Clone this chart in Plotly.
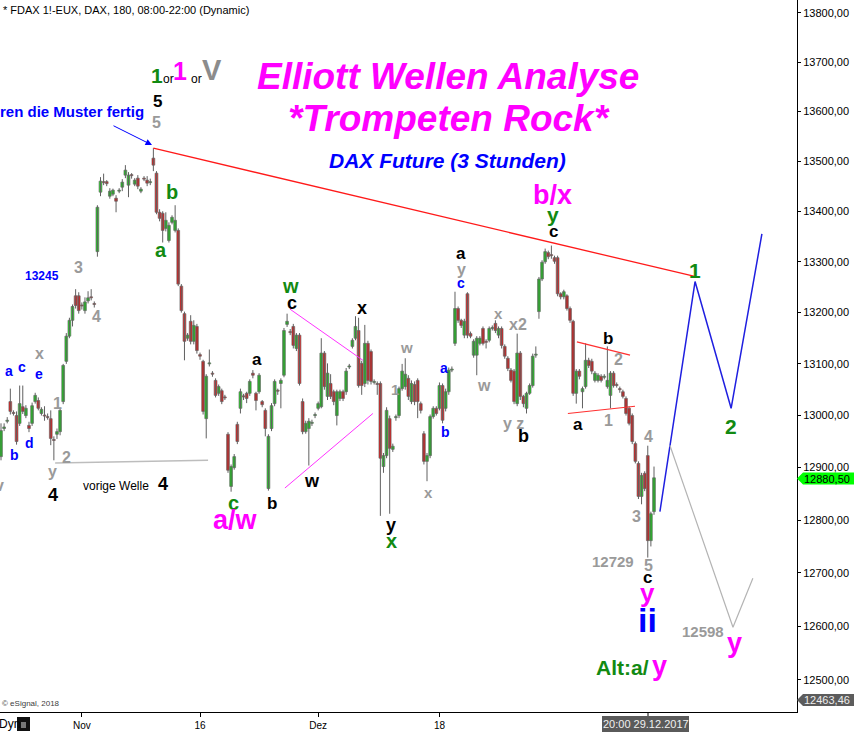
import math
import plotly.graph_objects as go

# 3-hour FDAX candles from left to right
opens = [12921, 12975, 12989, 13027, 13006, 13000, 12985, 13017, 13000, 12981,
         12985, 13027, 13029, 13004, 13001, 12998, 12994, 12954, 12964, 12969,
         13027, 13105, 13154, 13185, 13233, 13233, 13215, 13204, 13223, 13231,
         13218, 13320, 13438, 13459, 13459, 13430, 13434, 13426, 13440, 13448,
         13472, 13452, 13473, 13454, 13466, 13440, 13466, 13462, 13457, 13506,
         13476, 13398, 13396, 13366, 13342, 13378, 13362, 13362, 13252, 13198,
         13150, 13183, 13144, 13173, 13118, 13105, 12994, 13100, 13082, 13068,
         13043, 13048, 13036, 12964, 12864, 12900, 12983, 13014, 13038, 13043,
         13043, 13082, 13043, 13046, 13027, 13010, 12860, 12975, 13023, 13049,
         13062, 13078, 13177, 13163, 13173, 13130, 13156, 13027, 12969, 12975,
         12985, 13000, 13014, 13017, 13121, 13037, 13062, 13046, 13000, 13033,
         13046, 13046, 13094, 13134, 13150, 13165, 13101, 13062, 13140, 13124,
         13064, 13062, 13062, 12902, 12923, 12994, 12935, 12996, 13000, 13052,
         13056, 13072, 13027, 13060, 13068, 13023, 12965, 12912, 12923, 12998,
         13014, 13014, 13058, 13014, 13046, 13088, 13140, 13208, 13185, 13156,
         13237, 13159, 13117, 13117, 13140, 13169, 13144, 13146, 13169, 13179,
         13156, 13169, 13134, 13111, 13088, 13086, 13023, 13121, 13037, 13014,
         13043, 13058, 13117, 13202, 13266, 13300, 13318, 13314, 13308, 13308,
         13237, 13231, 13233, 13208, 13183, 13043, 13086, 13046, 13056, 13107,
         13105, 13068, 13068, 13076, 13074, 13056, 13039, 13082, 13060, 13052,
         13046, 13033, 13014, 13000, 12946, 12908, 12845, 12889, 12923, 12761,
         12816]
highs = [12985, 12985, 12997, 13052, 13010, 13008, 13058, 13058, 13020, 12988,
         13025, 13044, 13035, 13016, 13018, 13004, 13010, 12960, 12975, 13015,
         13100, 13160, 13190, 13216, 13246, 13240, 13220, 13230, 13242, 13246,
         13222, 13412, 13468, 13475, 13462, 13446, 13445, 13432, 13446, 13464,
         13492, 13478, 13476, 13466, 13472, 13448, 13470, 13470, 13465, 13526,
         13480, 13404, 13400, 13398, 13378, 13392, 13412, 13366, 13256, 13202,
         13160, 13195, 13185, 13178, 13122, 13108, 13080, 13128, 13086, 13072,
         13060, 13052, 13040, 12968, 12906, 12926, 12988, 13052, 13042, 13046,
         13070, 13088, 13046, 13082, 13030, 13014, 12964, 13024, 13070, 13052,
         13072, 13170, 13198, 13168, 13178, 13160, 13160, 13033, 12990, 12995,
         12992, 13006, 13027, 13150, 13125, 13101, 13080, 13050, 13050, 13050,
         13050, 13092, 13100, 13150, 13193, 13190, 13106, 13176, 13145, 13128,
         13070, 13066, 13066, 12928, 13016, 13000, 12946, 13002, 13056, 13100,
         13111, 13078, 13068, 13066, 13072, 13027, 12970, 12928, 13002, 13018,
         13018, 13064, 13062, 13052, 13093, 13095, 13241, 13212, 13188, 13188,
         13240, 13163, 13148, 13154, 13154, 13173, 13148, 13173, 13175, 13185,
         13173, 13173, 13138, 13115, 13092, 13090, 13159, 13125, 13040, 13046,
         13062, 13120, 13134, 13270, 13303, 13326, 13322, 13332, 13312, 13312,
         13240, 13245, 13236, 13212, 13186, 13090, 13090, 13056, 13140, 13112,
         13110, 13086, 13082, 13080, 13080, 13134, 13086, 13086, 13064, 13056,
         13050, 13037, 13018, 13004, 12950, 12912, 12890, 12893, 12942, 12816,
         12902]
lows = [12914, 12970, 12985, 13002, 13000, 12944, 12980, 13003, 12995, 12968,
        12980, 13023, 13010, 13000, 12990, 12992, 12943, 12914, 12955, 12962,
        13022, 13100, 13150, 13173, 13208, 13198, 13206, 13198, 13218, 13224,
        13210, 13310, 13430, 13452, 13450, 13425, 13430, 13398, 13436, 13440,
        13466, 13428, 13465, 13450, 13444, 13436, 13460, 13450, 13452, 13480,
        13394, 13380, 13338, 13360, 13338, 13374, 13358, 13252, 13200, 13107,
        13145, 13138, 13138, 13120, 13108, 13002, 12956, 13095, 13075, 13035,
        13038, 13022, 13030, 12890, 12854, 12896, 12945, 13004, 13030, 13024,
        13038, 13072, 13010, 13042, 13016, 12960, 12856, 12970, 13018, 13040,
        13014, 13074, 13172, 13156, 13130, 13125, 13058, 12964, 12965, 12904,
        12980, 12995, 13010, 13014, 13050, 13030, 13032, 13020, 12981, 13028,
        13028, 13040, 13090, 13130, 13146, 13054, 13040, 13055, 13060, 13060,
        13060, 13040, 12808, 12890, 12918, 12812, 12930, 12990, 12995, 13048,
        13050, 13030, 13022, 13020, 12995, 13004, 12906, 12874, 12918, 12994,
        13000, 13010, 12985, 13008, 13040, 13084, 13135, 13180, 13170, 13150,
        13150, 13150, 13112, 13078, 13136, 13136, 13130, 13142, 13165, 13160,
        13150, 13130, 13110, 13086, 13064, 13022, 13018, 13030, 13016, 13004,
        13040, 13054, 13112, 13188, 13262, 13296, 13305, 13306, 13296, 13232,
        13226, 13226, 13204, 13180, 13038, 13023, 13070, 13014, 13052, 13092,
        13080, 13064, 13064, 13064, 13070, 13052, 13014, 13054, 13054, 13044,
        13033, 13000, 12981, 12945, 12908, 12840, 12830, 12855, 12729, 12750,
        12810]
closes = [12971, 12978, 12991, 13008, 13004, 12950, 13023, 13008, 13014, 12975,
          13019, 13039, 13014, 13012, 12999, 12996, 12956, 12952, 12969, 13010,
          13097, 13154, 13185, 13212, 13214, 13204, 13213, 13221, 13229, 13229,
          13216, 13408, 13460, 13457, 13455, 13440, 13442, 13420, 13442, 13458,
          13482, 13472, 13471, 13462, 13450, 13444, 13464, 13456, 13459, 13492,
          13398, 13386, 13362, 13382, 13372, 13388, 13382, 13256, 13204, 13144,
          13156, 13144, 13175, 13126, 13115, 13008, 13076, 13102, 13080, 13039,
          13056, 13027, 13034, 12895, 12902, 12921, 12950, 13046, 13036, 13033,
          13066, 13078, 13029, 13078, 13021, 12975, 12960, 13019, 13066, 13047,
          13068, 13165, 13183, 13161, 13136, 13156, 13062, 12969, 12985, 12989,
          12987, 13002, 13023, 13121, 13056, 13082, 13037, 13027, 13046, 13046,
          13033, 13086, 13096, 13146, 13173, 13058, 13058, 13140, 13068, 13066,
          13066, 13060, 12918, 12923, 13010, 12937, 12941, 12998, 13052, 13086,
          13080, 13037, 13062, 13027, 13027, 13010, 12912, 12923, 12998, 13014,
          13004, 13058, 12991, 13046, 13088, 13090, 13208, 13185, 13175, 13183,
          13156, 13154, 13144, 13150, 13150, 13140, 13142, 13169, 13171, 13165,
          13169, 13136, 13115, 13091, 13068, 13027, 13121, 13037, 13023, 13043,
          13058, 13115, 13119, 13266, 13299, 13320, 13310, 13312, 13301, 13237,
          13231, 13241, 13208, 13185, 13043, 13086, 13076, 13052, 13107, 13097,
          13086, 13082, 13078, 13068, 13076, 13068, 13082, 13058, 13058, 13050,
          13037, 13004, 12985, 12950, 12912, 12845, 12885, 12860, 12761, 12812,
          12880.5]
bars = list(range(len(opens)))

date_ticks = [26, 64, 102, 141]
date_labels = ["Nov", "16", "Dez", "18"]
price_ticks = [12500, 12600, 12700, 12800, 12900, 13000, 13100,
               13200, 13300, 13400, 13500, 13600, 13700, 13800]

# drawn lines (bar number, price)
trend_x, trend_y = [49, 223.8], [13526, 13270]
proj_x, proj_y = [211.9, 223.2, 234.8, 244.7], [12816, 13261, 13014, 13355]
alt_x, alt_y = [215.1, 235.4, 241.8], [12943, 12598, 12690]
wedge_top_x, wedge_top_y = [92.9, 116.4], [13207, 13107]
wedge_bot_x, wedge_bot_y = [91.3, 119.6], [12861, 13004]
tri_top_x, tri_top_y = [185.2, 202.3], [13143, 13117]
tri_bot_x, tri_bot_y = [182.3, 203.9], [13004, 13018]
prev4_x, prev4_y = [17.4, 66.6], [12909, 12914]

last_price = "12880,50"
low_price = "12463,46"

FONT = "Liberation Sans, Arial, sans-serif"
GREEN = "#128a12"
MAG = "#ff00ff"
GREY = "#9a9a9a"
BLUE = "#0000ff"
BLACK = "#000000"

W, H = 797, 712  # plot area in pixels
bar_step = 653 / (len(opens) - 1)
x_lo = -1 / bar_step
x_hi = x_lo + W / bar_step

fig = go.Figure()

# wicks
wick_x, wick_y = [], []
for i in bars:
    wick_x += [i, i, None]
    wick_y += [lows[i], highs[i], None]
fig.add_trace(go.Scatter(x=wick_x, y=wick_y, mode="lines", hoverinfo="skip",
                         line=dict(color="#606060", width=1), showlegend=False))

# bodies
body_base = [min(o, c) for o, c in zip(opens, closes)]
body_len = [max(abs(c - o), 1.5) for o, c in zip(opens, closes)]
body_col = ["#00e800" if c >= o else "#ff0000" for o, c in zip(opens, closes)]
fig.add_trace(go.Bar(x=bars, y=body_len, base=body_base, width=0.88,
                     marker=dict(color=body_col, line=dict(color="#707070", width=0.8)),
                     hoverinfo="skip", showlegend=False))


def line(xs, ys, color, width, dash=None):
    fig.add_trace(go.Scatter(x=xs, y=ys, mode="lines", hoverinfo="skip",
                             line=dict(color=color, width=width, dash=dash),
                             showlegend=False))


line(trend_x, trend_y, "#ff1a1a", 1.3)
line(proj_x, proj_y, "#1f1fe0", 1.5)
line(alt_x, alt_y, "#b4b4b4", 1.2)
line(wedge_top_x, wedge_top_y, "#ff33ff", 1)
line(wedge_bot_x, wedge_bot_y, "#ff33ff", 1)
line(tri_top_x, tri_top_y, "#ff3030", 1.2)
line(tri_bot_x, tri_bot_y, "#ff3030", 1.2)
line(prev4_x, prev4_y, "#bdbdbd", 1.5)


def label(text, x, y, color, size, bold=True, italic=False, anchor="center"):
    fig.add_annotation(
        text=text, xref="paper", yref="paper", x=x / W, y=1 - y / H,
        xanchor=anchor, yanchor="middle", showarrow=False,
        font=dict(family=FONT, size=size, color=color,
                  weight="bold" if bold else "normal",
                  style="italic" if italic else "normal"))


# headline
label("Elliott Wellen Analyse", 448, 77, MAG, 37, italic=True)
label("*Trompeten Rock*", 449, 118, MAG, 37, italic=True)
label("DAX Future (3 Stunden)", 447, 160, BLUE, 21, italic=True)
label("* FDAX 1!-EUX, DAX, 180, 08:00-22:00 (Dynamic)", 1, 10, BLACK, 11,
      bold=False, anchor="left")

# wave count
waves = [
    ("1", 157, 75, GREEN, 21), ("1", 180, 71, MAG, 25), ("V", 212, 70, "#8c8c8c", 29),
    ("5", 157, 101, BLACK, 17), ("5", 156, 122, GREY, 16),
    ("b", 172, 192, GREEN, 20), ("a", 161, 250, GREEN, 20),
    ("3", 78, 268, GREY, 16), ("13245", 42, 276, BLUE, 12), ("4", 96, 316, GREY, 16),
    ("x", 39, 353, GREY, 16), ("a", 9, 371, BLUE, 14), ("c", 22, 367, BLUE, 14),
    ("e", 39, 374, BLUE, 14), ("1", 57, 403, GREY, 16), ("d", 29, 443, BLUE, 14),
    ("b", 14, 455, BLUE, 14), ("2", 66, 457, GREY, 16), ("y", 53, 471, GREY, 16),
    ("4", 53, 495, BLACK, 18), ("4", 163, 484, BLACK, 18),
    ("c", 234, 503, GREEN, 20), ("b", 272, 504, BLACK, 17), ("a/w", 235, 520, MAG, 27),
    ("a", 257, 359, BLACK, 17), ("w", 290, 286, GREEN, 20), ("c", 292, 303, BLACK, 18),
    ("x", 362, 308, BLACK, 18), ("w", 312, 481, BLACK, 18), ("w", 407, 347, GREY, 15),
    ("1", 395, 389, GREY, 15), ("y", 391, 525, BLACK, 18), ("x", 391, 541, GREEN, 20),
    ("a", 444, 368, BLUE, 14), ("b", 446, 432, BLUE, 14), ("x", 428, 492, GREY, 15),
    ("a", 461, 254, BLACK, 17), ("y", 461, 269, GREY, 16), ("c", 461, 283, BLUE, 14),
    ("x", 498, 313, GREY, 15), ("x2", 518, 324, GREY, 16), ("w", 484, 385, GREY, 16),
    ("y z", 513, 423, GREY, 16), ("b", 523, 436, BLACK, 18),
    ("b/x", 552, 195, MAG, 27), ("y", 553, 215, GREEN, 21), ("c", 553, 231, BLACK, 17),
    ("b", 608, 338, BLACK, 17), ("2", 618, 359, GREY, 16), ("a", 578, 424, BLACK, 17),
    ("1", 608, 420, GREY, 16), ("4", 648, 436, GREY, 16), ("3", 636, 516, GREY, 16),
    ("12729", 613, 561, GREY, 15), ("5", 648, 565, GREY, 16), ("c", 647, 577, BLACK, 17),
    ("y", 647, 593, MAG, 26), ("ii", 647, 620, BLUE, 34),
    ("Alt:a/", 622, 667, GREEN, 21), ("y", 659, 666, MAG, 27),
    ("12598", 703, 631, GREY, 15), ("y", 734, 643, MAG, 27),
    ("1", 695, 270, GREEN, 21), ("2", 731, 426, GREEN, 21), ("v", -1, 486, GREY, 16),
]
for t, x, y, c, s in waves:
    label(t, x, y, c, s)

label("or", 168, 79, BLACK, 12, bold=False)
label("or", 196, 79, BLACK, 12, bold=False)
label("vorige Welle", 116, 486, BLACK, 12, bold=False)
label("ren die Muster fertig", 146, 111, BLUE, 15, anchor="right")
label("\u00a9 eSignal, 2018", 0, 703, "#404040", 8, bold=False, anchor="left")
label("Dyn", -3, 724, BLACK, 12, bold=False, anchor="left")

fig.add_annotation(x=152 / W, y=1 - 145 / H, xref="paper", yref="paper",
                   ax=-40, ay=-20, showarrow=True, arrowhead=2, arrowsize=1.3,
                   arrowwidth=1, arrowcolor=BLUE, text="")


def fx(p):
    return p / W


def fy(p):
    return 1 - p / H


def marker(py, fill, text, tcolor):
    path = (f"M {fx(797)},{fy(py)} L {fx(803)},{fy(py - 6)} L {fx(854)},{fy(py - 6)} "
            f"L {fx(854)},{fy(py + 6)} L {fx(803)},{fy(py + 6)} Z")
    fig.add_shape(type="path", xref="paper", yref="paper", path=path,
                  fillcolor=fill, line=dict(width=0), layer="above")
    label(text, 827, py, tcolor, 11, bold=False)


marker(478.5, "#00ff00", last_price, BLACK)
marker(700, "#5c5c5c", low_price, "#eeeeee")

# crosshair date box and lock icon at the bottom
fig.add_shape(type="rect", xref="paper", yref="paper", x0=fx(602), x1=fx(689),
              y0=fy(732), y1=fy(716), fillcolor="#5a5a5a", line=dict(width=0))
fig.add_shape(type="line", xref="paper", yref="paper", x0=fx(648), x1=fx(648),
              y0=fy(712), y1=fy(716), line=dict(color=BLACK, width=1))
label("20:00 29.12.2017", 645.5, 724, "#f0f0f0", 11, bold=False)
fig.add_shape(type="rect", xref="paper", yref="paper", x0=fx(17), x1=fx(30),
              y0=fy(731), y1=fy(717), fillcolor="#111111", line=dict(width=0))
fig.add_shape(type="rect", xref="paper", yref="paper", x0=fx(21), x1=fx(26),
              y0=fy(728), y1=fy(722), fillcolor="#777777", line=dict(width=0))

fig.update_layout(
    width=854, height=732, autosize=False,
    margin=dict(l=0, r=57, t=0, b=20, pad=0),
    paper_bgcolor="white", plot_bgcolor="white",
    showlegend=False, barmode="overlay",
    font=dict(family=FONT, color=BLACK),
    xaxis=dict(
        range=[x_lo, x_hi],
        showgrid=False, zeroline=False, showline=True, linecolor=BLACK, linewidth=1,
        ticks="outside", ticklen=4, tickcolor=BLACK,
        tickvals=date_ticks, ticktext=date_labels, tickfont=dict(size=10, color=BLACK),
    ),
    yaxis=dict(
        type="log", side="right",
        range=[math.log10(12440.7), math.log10(13826.6)],
        showgrid=False, zeroline=False, showline=True, linecolor=BLACK, linewidth=1,
        ticks="outside", ticklen=3, tickcolor=BLACK,
        tickvals=price_ticks, ticktext=[f"{v},00" for v in price_ticks],
        tickfont=dict(size=11, color=BLACK),
    ),
)

# the page body has a default 8px margin; drop it so the chart fills the window
fig.write_html("out.html", config={"displayModeBar": False},
               post_script="document.body.style.margin='0';")
